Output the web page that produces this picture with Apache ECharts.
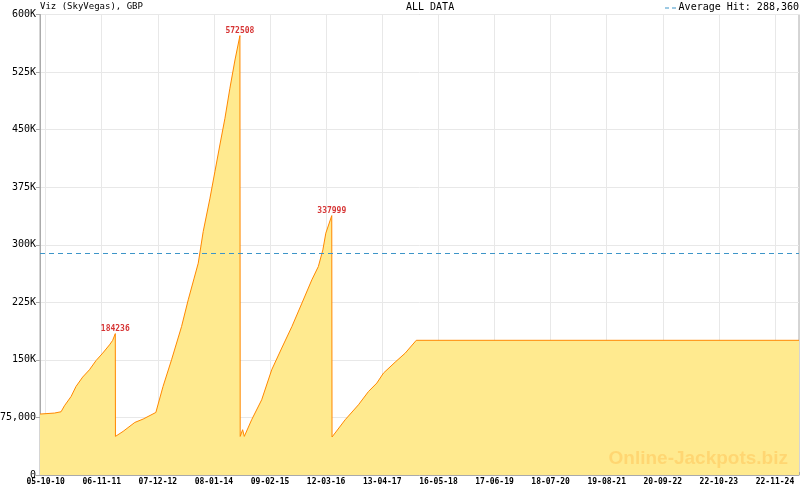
<!DOCTYPE html>
<html>
<head>
<meta charset="utf-8">
<script src="https://cdn.jsdelivr.net/npm/echarts@6/dist/echarts.min.js"></script>
<style>html,body{margin:0;padding:0;background:#fff;}#c{width:800px;height:490px;}</style>
</head>
<body>
<div id="c"></div>
<script>
// ---- data ----
const pointDates = [
  '2010-08-26','2010-12-06','2011-01-22','2011-02-15','2011-04-03','2011-05-08','2011-06-24','2011-08-11',
  '2011-09-27','2011-11-13','2011-12-31','2012-01-22','2012-02-10',
  '2012-02-11','2012-04-05','2012-06-27','2012-08-25','2012-11-23','2013-01-13','2013-03-14','2013-05-24',
  '2013-07-10','2013-08-21','2013-09-19','2013-10-24','2013-12-11','2014-01-15','2014-02-19','2014-03-27',
  '2014-05-01','2014-06-06','2014-07-11',
  '2014-07-13','2014-07-30','2014-08-11','2014-10-02','2014-12-12','2015-02-21','2015-05-03','2015-07-14',
  '2015-09-23','2015-12-02','2016-01-17','2016-02-18','2016-03-10','2016-04-21',
  '2016-04-23','2016-07-25','2016-10-27','2017-01-06','2017-03-06','2017-04-22','2017-07-14','2017-09-23',
  '2017-12-10','2025-05-11'
];
const pointValues = [
  79400,80700,82400,90200,102300,115400,127600,137100,
  149200,158800,169600,175300,184236,
  50300,56800,68500,72900,81500,115400,150100,193500,
  228200,256500,276000,317200,360700,395300,430000,464800,
  503900,540700,572508,
  50300,59000,50300,72000,98000,137100,165400,193500,
  224000,254300,271600,293300,315100,337999,
  49500,72000,91500,108800,119800,132800,147100,158800,
  175500,175500
];
const peakDates = ['2012-02-10','2014-07-11','2016-04-21'];
const peakValues = [184236,572508,337999];
const averageHit = 288360;
const xTickLabels = ['05-10-10','06-11-11','07-12-12','08-01-14','09-02-15','12-03-16','13-04-17',
  '16-05-18','17-06-19','18-07-20','19-08-21','20-09-22','22-10-23','22-11-24'];
const yTickLabels = ['0','75,000','150K','225K','300K','375K','450K','525K','600K'];
const titleText = 'Viz (SkyVegas), GBP';
const subTitleText = 'ALL DATA';
const legendText = 'Average Hit: 288,360';
const watermarkText = 'Online-Jackpots.biz';

// ---- helpers ----
const ts = s => { const p = s.split('-').map(Number); return Date.UTC(p[0], p[1]-1, p[2]); };
const tsLabel = s => { const p = s.split('-').map(Number); return Date.UTC(2000+p[2], p[1]-1, p[0]); };
const xMin = ts(pointDates[0]);
const xMax = ts(pointDates[pointDates.length-1]);
const majorTicks = xTickLabels.map(tsLabel);
const minorTicks = [];
const step = (majorTicks[1]-majorTicks[0]) / 7;
for (let t = majorTicks[0]; t <= xMax + 1; t += step) minorTicks.push(Math.round(t));

const seriesData = pointDates.map((d,i) => [ts(d), pointValues[i]]);
const peakData = peakDates.map((d,i) => [ts(d), peakValues[i]]);

const mono = 'DejaVu Sans Mono';
const chart = echarts.init(document.getElementById('c'), null, {renderer:'canvas'});
chart.setOption({
  animation: false,
  backgroundColor: '#ffffff',
  grid: {left: 40, right: 1, top: 14.5, bottom: 15, containLabel: false, outerBoundsMode: 'none',
    show: true, borderColor: '#aaaaaa', borderWidth: 1, backgroundColor: 'transparent'},
  xAxis: [{
    type: 'value', min: xMin, max: xMax,
    axisLine: {show: true, lineStyle: {color: '#aaaaaa'}},
    axisTick: {show: true, inside: true, length: 6, lineStyle: {color: '#aaaaaa'}, customValues: majorTicks},
    axisLabel: {show: true, customValues: majorTicks, margin: 3, fontFamily: mono, fontSize: 8, fontWeight: 'bold', color: '#000',
      formatter: v => { const i = majorTicks.findIndex(t => Math.abs(t - v) < 86400000); return i >= 0 ? xTickLabels[i] : ''; }},
    splitLine: {show: true, lineStyle: {color: '#e8e8e8', width: 1}}
  },{
    type: 'value', min: xMin, max: xMax, position: 'bottom',
    axisLine: {show: false},
    axisTick: {show: true, inside: true, length: 3, lineStyle: {color: '#aaaaaa'}, customValues: minorTicks},
    axisLabel: {show: false},
    splitLine: {show: false}
  }],
  yAxis: {
    type: 'value', min: 0, max: 600000, interval: 75000,
    axisLine: {show: true, lineStyle: {color: '#aaaaaa'}},
    axisTick: {show: true, inside: false, length: 4, lineStyle: {color: '#aaaaaa'}},
    axisLabel: {margin: 4, fontFamily: mono, fontSize: 10, color: '#000',
      formatter: v => yTickLabels[Math.round(v/75000)]},
    splitLine: {show: true, lineStyle: {color: '#e8e8e8', width: 1}}
  },
  series: [{
    type: 'line', data: seriesData, xAxisIndex: 0,
    showSymbol: false, symbol: 'none',
    lineStyle: {color: '#ff8800', width: 1},
    areaStyle: {color: '#ffea8f', opacity: 1},
    z: 2,
    markLine: {
      silent: true, symbol: 'none', label: {show: false},
      lineStyle: {color: '#3d95c8', type: [5,4], width: 1},
      data: [{yAxis: averageHit}]
    }
  },{
    type: 'scatter', data: peakData, symbolSize: 0, xAxisIndex: 0,
    label: {show: true, position: 'top', distance: 1, fontFamily: mono, fontSize: 8, fontWeight: 'bold', color: '#cc0000',
      formatter: p => String(p.value[1])},
    z: 5
  }],
  graphic: [
    {type: 'text', left: 40, top: 2, style: {text: titleText, font: '9px "DejaVu Sans Mono"', fill: '#000'}},
    {type: 'text', left: 406, top: 2, style: {text: subTitleText, font: '10px "DejaVu Sans Mono"', fill: '#000'}},
    {type: 'line', shape: {x1: 665, y1: 8, x2: 677, y2: 8}, style: {stroke: '#3d95c8', lineWidth: 1, lineDash: [4,3]}},
    {type: 'text', right: 1, top: 2, style: {text: legendText, font: '10px "DejaVu Sans Mono"', fill: '#000'}},
    {type: 'text', right: 12, top: 449, z: 10, style: {text: watermarkText, font: 'bold 19px "Liberation Sans"', fill: 'rgba(255,190,80,0.45)'}}
  ]
});
</script>
</body>
</html>
